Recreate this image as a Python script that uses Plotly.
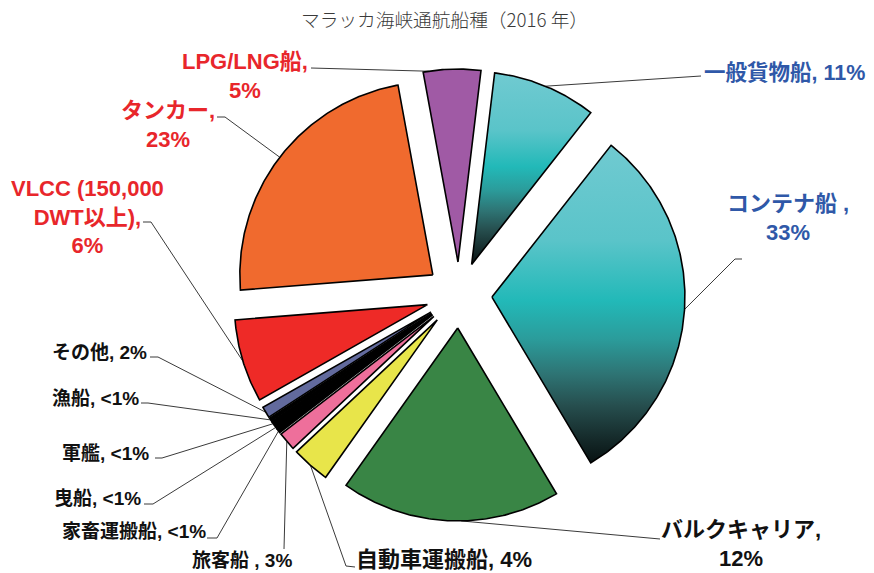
import numpy as np
import plotly.graph_objects as go

# ---------------- data ----------------
categories = ["LPG/LNG船", "一般貨物船", "コンテナ船", "バルクキャリア", "自動車運搬船", "旅客船",
              "家畜運搬船", "曳船", "軍艦", "漁船", "その他", "VLCC (150,000 DWT以上)", "タンカー"]
# slice sizes as drawn in the picture (share of the full circle, %)
slice_shares = [4.8, 8.7, 30.9, 18.4, 3.2, 1.55, 0.32, 0.32, 0.32, 0.32, 0.95, 6.97, 23.4]
# percentages printed next to each slice
label_pcts = ["5%", "11%", "33%", "12%", "4%", "3%", "<1%", "<1%", "<1%", "<1%", "2%", "6%", "23%"]
# label names as printed
label_names = ["LPG/LNG船,", "一般貨物船,", "コンテナ船 ,", "バルクキャリア,", "自動車運搬船,", "旅客船 ,",
               "家畜運搬船,", "曳船,", "軍艦,", "漁船,", "その他,", "VLCC (150,000<br>DWT以上),", "タンカー,"]
title_text = "マラッカ海峡通航船種（2016 年）"

# ---------------- styles / layout ----------------
W, H = 874, 573
CX, CY, RPX = 459, 295, 193      # pie centre and radius (pixels)
PULL = 0.171                     # explode distance (fraction of radius)
START = 349.6                    # start angle, degrees clockwise from 12 o'clock

RED, BLUE, BLK = "#e8262b", "#2f58a8", "#111111"
TEAL = [[0, "#081212"], [0.07, "#142828"], [0.18, "#264e4e"], [0.28, "#2e7474"],
        [0.39, "#2b9c9b"], [0.51, "#22b9b8"], [0.7, "#5ac4c9"], [1, "#70cad1"]]
slice_colors = ["#a05aa5", None, None, "#398545", "#e8e54a", "#ee6f9b",
                "#000000", "#000000", "#000000", "#000000", "#626a9d", "#ee2a27", "#f06a2e"]
gradient = [False, True, True, False, False, False, False, False, False, False, False, False, False]

# label placement: (x px, y px, xanchor, separator, font size, colour, elbow points px, anchor fraction)
label_layout = [
    (245, 76, "center", "<br>", 22, RED, [(311, 68)], 0.1),
    (702, 72, "left", " ", 21.5, BLUE, [(701, 76)], 0.5),
    (788, 218, "center", "<br>", 22, BLUE, [(742, 259), (735, 259)], 0.5),
    (741, 544, "center", "<br>", 22, BLK, [(660, 539)], 0.45),
    (354, 559, "left", " ", 22, BLK, [(355, 567), (346, 566)], 0.5),
    (190, 560, "left", " ", 19, BLK, [(284, 549)], 0.5),
    (60, 531, "left", " ", 19, BLK, [(207, 538), (217, 538)], 0.5),
    (52, 498, "left", " ", 19, BLK, [(144, 504), (153, 504)], 0.5),
    (60, 453, "left", " ", 19, BLK, [(155, 458), (162, 458)], 0.5),
    (50, 398, "left", " ", 19, BLK, [(141, 403), (148, 403)], 0.5),
    (50, 352, "left", " ", 19, BLK, [(150, 357), (158, 357)], 0.5),
    (87, 217, "center", "<br>", 22, RED, [(143, 222), (151, 222)], 0.5),
    (168, 125, "center", "<br>", 22, RED, [(217, 117), (225, 117)], 0.5),
]
FONT = "Liberation Sans, Arial, Noto Sans CJK JP, sans-serif"


def to_xy(px, py):
    """pixel -> data units (pie radius = 1, centre = origin)"""
    return ((px - CX) / RPX, (CY - py) / RPX)


vals = np.array(slice_shares, float)
deg = vals / vals.sum() * 360.0
ends = START + np.cumsum(deg)
starts = ends - deg

fig = go.Figure()

# leader lines first (under slices)
for i, cat in enumerate(categories):
    lx, ly, xa, sep, fs, col, elbows, frac = label_layout[i]
    mid = np.radians((starts[i] + ends[i]) / 2)
    ox, oy = PULL * np.sin(mid), PULL * np.cos(mid)
    ta = np.radians(starts[i] + frac * deg[i])
    ax_, ay_ = ox + np.sin(ta), oy + np.cos(ta)
    pts = [to_xy(*p) for p in elbows] + [(ax_, ay_)]
    fig.add_trace(go.Scatter(x=[p[0] for p in pts], y=[p[1] for p in pts], mode="lines",
                             line=dict(color="#3a3a3a", width=1), hoverinfo="skip", showlegend=False))

# slices
for i, cat in enumerate(categories):
    t0, t1 = starts[i], ends[i]
    mid = np.radians((t0 + t1) / 2)
    ox, oy = PULL * np.sin(mid), PULL * np.cos(mid)
    th = np.radians(np.linspace(t0, t1, max(int(deg[i] * 2), 6)))
    xs = np.concatenate([[ox], ox + np.sin(th), [ox]])
    ys = np.concatenate([[oy], oy + np.cos(th), [oy]])
    kw = dict(fillcolor=slice_colors[i]) if not gradient[i] else dict(
        fillgradient=dict(type="vertical", colorscale=TEAL))
    fig.add_trace(go.Scatter(x=xs, y=ys, mode="lines", fill="toself", name=cat,
                             line=dict(color="black", width=1.6), hoverinfo="skip",
                             showlegend=False, **kw))

annotations = []
for i, cat in enumerate(categories):
    lx, ly, xa, sep, fs, col, elbows, frac = label_layout[i]
    x, y = to_xy(lx, ly)
    annotations.append(dict(x=x, y=y, xref="x", yref="y", xanchor=xa, yanchor="middle",
                            align="center", showarrow=False,
                            text=label_names[i] + sep + label_pcts[i],
                            font=dict(family=FONT, size=fs, color=col, weight="bold")))
tx, ty = to_xy(444, 18)
annotations.append(dict(x=tx, y=ty, xref="x", yref="y", xanchor="center", yanchor="middle",
                        showarrow=False, text=title_text,
                        font=dict(family="Noto Sans CJK JP, Noto Sans, sans-serif", size=18.7,
                                  color="#3a3a3a", weight=300)))

x0, _ = to_xy(0, 0)
x1, _ = to_xy(W, 0)
_, y0 = to_xy(0, H)
_, y1 = to_xy(0, 0)
fig.update_layout(
    width=W, height=H, margin=dict(l=0, r=0, t=0, b=0, pad=0),
    paper_bgcolor="white", plot_bgcolor="white",
    xaxis=dict(range=[x0, x1], visible=False, fixedrange=True),
    yaxis=dict(range=[y0, y1], visible=False, fixedrange=True),
    annotations=annotations, showlegend=False,
)

# remove the browser's default page margin so the figure fills the window exactly
fig.write_html("out.html", config={"displayModeBar": False},
               post_script="document.body.style.margin='0px';")
